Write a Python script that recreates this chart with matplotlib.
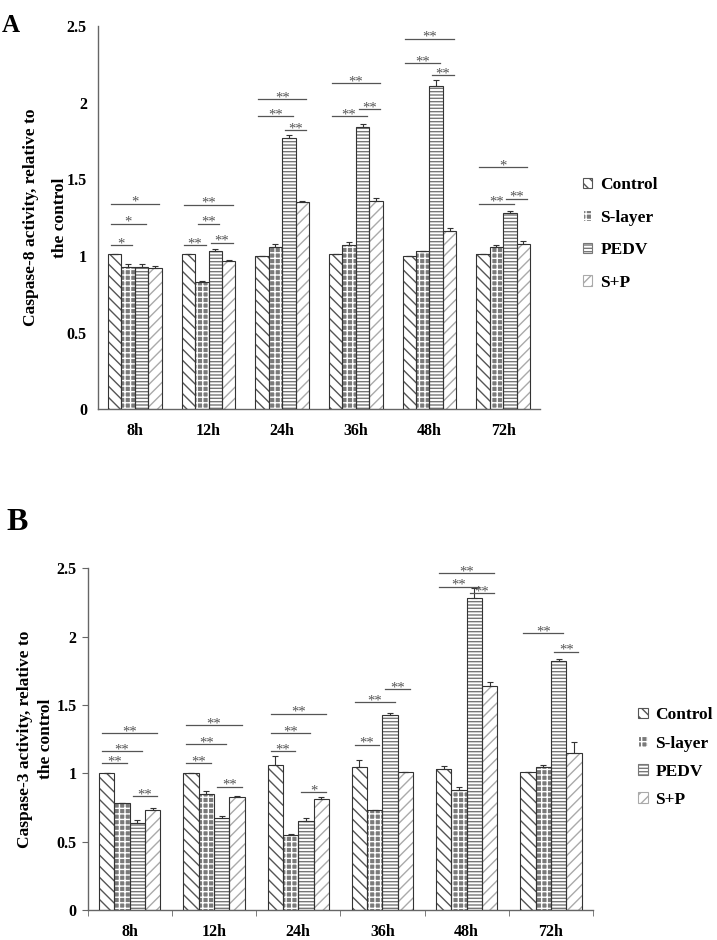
import numpy as np
import matplotlib
matplotlib.use("Agg")
import matplotlib.pyplot as plt
from matplotlib.patches import Patch

plt.rcParams['font.family'] = 'serif'
plt.rcParams['font.serif'] = ['Liberation Serif', 'DejaVu Serif']
plt.rcParams['font.weight'] = 'bold'
plt.rcParams['hatch.linewidth'] = 1.0

# data
hours = ['8h', '12h', '24h', '36h', '48h', '72h']
groups = ['Control', 'S-layer', 'PEDV', 'S+P']

# panel A - caspase-8
control_a = [1.01, 1.01, 1.00, 1.01, 1.00, 1.01]
slayer_a = [0.93, 0.83, 1.06, 1.07, 1.03, 1.06]
pedv_a = [0.93, 1.03, 1.77, 1.84, 2.11, 1.28]
sp_a = [0.92, 0.97, 1.35, 1.36, 1.16, 1.08]
control_a_err = [0.005, 0.005, 0.0, 0.0, 0.0, 0.005]
slayer_a_err = [0.015, 0.005, 0.015, 0.022, 0.005, 0.012]
pedv_a_err = [0.015, 0.015, 0.017, 0.02, 0.035, 0.013]
sp_a_err = [0.015, 0.003, 0.008, 0.017, 0.024, 0.02]

# panel B - caspase-3
control_b = [1.00, 1.00, 1.06, 1.05, 1.03, 1.01]
slayer_b = [0.78, 0.85, 0.55, 0.73, 0.88, 1.05]
pedv_b = [0.64, 0.67, 0.65, 1.43, 2.28, 1.82]
sp_b = [0.73, 0.83, 0.81, 1.01, 1.64, 1.15]
control_b_err = [0.003, 0.003, 0.07, 0.05, 0.022, 0.003]
slayer_b_err = [0.0, 0.022, 0.005, 0.003, 0.02, 0.012]
pedv_b_err = [0.019, 0.015, 0.022, 0.012, 0.073, 0.015]
sp_b_err = [0.017, 0.003, 0.017, 0.003, 0.027, 0.076]

# significance brackets: (time index, bar i, bar j, height, label)
sig_a = [(0, 0, 1, 1.07, '*'), (0, 0, 2, 1.21, '*'), (0, 0, 3, 1.34, '*'),
         (1, 0, 1, 1.07, '**'), (1, 1, 2, 1.21, '**'), (1, 2, 3, 1.087, '**'), (1, 0, 3, 1.335, '**'),
         (2, 0, 3, 2.022, '**'), (2, 0, 2, 1.913, '**'), (2, 2, 3, 1.822, '**'),
         (3, 0, 3, 2.128, '**'), (3, 0, 2, 1.913, '**'), (3, 2, 3, 1.957, '**'),
         (4, 0, 3, 2.418, '**'), (4, 0, 2, 2.257, '**'), (4, 2, 3, 2.179, '**'),
         (5, 0, 3, 1.58, '*'), (5, 0, 2, 1.341, '**'), (5, 2, 3, 1.374, '**')]
sig_b = [(0, 0, 1, 1.073, '**'), (0, 0, 2, 1.161, '**'), (0, 0, 3, 1.293, '**'), (0, 2, 3, 0.832, '**'),
         (1, 0, 1, 1.073, '**'), (1, 0, 2, 1.212, '**'), (1, 0, 3, 1.353, '**'), (1, 2, 3, 0.902, '**'),
         (2, 0, 1, 1.161, '**'), (2, 0, 2, 1.293, '**'), (2, 0, 3, 1.436, '**'), (2, 2, 3, 0.861, '*'),
         (3, 0, 1, 1.209, '**'), (3, 0, 2, 1.519, '**'), (3, 2, 3, 1.614, '**'),
         (4, 0, 3, 2.463, '**'), (4, 0, 2, 2.365, '**'), (4, 2, 3, 2.319, '**'),
         (5, 0, 2, 2.024, '**'), (5, 2, 3, 1.89, '**')]

hatches = ['\\\\\\', '+++', '-----', '///']
hatch_cols = ['#555555', 'white', '#777777', '#aaaaaa']
face_cols = ['white', '#7a7a7a', 'white', 'white']
edge = '#333333'
axis_col = '#666666'


def draw_panel(ax, series, errs, sigs, ylabel, xticks_marks, lsp):
    x = np.arange(len(hours))
    w = 0.182
    offs = (np.arange(4) - 1.5) * w
    for k in range(4):
        ax.bar(x + offs[k], series[k], w, facecolor=face_cols[k], edgecolor=hatch_cols[k],
               hatch=hatches[k], linewidth=0, zorder=2)
        ax.bar(x + offs[k], series[k], w, fill=False, edgecolor=edge, linewidth=0.8, zorder=3)
        ax.errorbar(x + offs[k], series[k], yerr=[np.zeros(len(hours)), errs[k]], fmt='none',
                    ecolor=edge, elinewidth=0.8, capsize=2.5, capthick=0.8, zorder=4)
    for t, i, j, h, lab in sigs:
        x0 = t + offs[i] - 0.3 * w
        x1 = t + offs[j] + 0.3 * w
        ax.plot([x0, x1], [h, h], color='#555555', lw=0.9, zorder=5)
        ax.annotate(lab, ((x0 + x1) / 2, h), xytext=(0, -1.5), textcoords='offset points',
                    ha='center', va='baseline', fontsize=10.5, fontweight='normal', color='#555555')
    ax.set_xlim(-0.5, 5.5)
    ax.set_ylim(0, 2.5)
    ax.set_yticks([0, 0.5, 1, 1.5, 2, 2.5])
    ax.set_yticklabels(['0', '0.5', '1', '1.5', '2', '2.5'])
    ax.set_xticks(x)
    ax.set_xticklabels(hours)
    for s in ['top', 'right']:
        ax.spines[s].set_visible(False)
    for s in ['left', 'bottom']:
        ax.spines[s].set_color(axis_col)
        ax.spines[s].set_linewidth(1.0)
    ax.tick_params(axis='x', length=0, pad=10, labelsize=11.5)
    if xticks_marks:
        ax.set_xticks(np.arange(-0.5, 6, 1), minor=True)
        ax.tick_params(axis='x', which='minor', length=4, color=axis_col, direction='out')
        ax.tick_params(axis='y', length=4, color=axis_col, pad=4, labelsize=11.5)
    else:
        ax.tick_params(axis='y', length=0, pad=8, labelsize=11.5)
    ax.set_ylabel(ylabel, fontsize=12.5, fontweight='bold', linespacing=lsp)


fig = plt.figure(figsize=(7.17, 9.4), dpi=100)

ax_a = fig.add_axes([0.1367, 0.5646, 0.6164, 0.4077])
draw_panel(ax_a, [control_a, slayer_a, pedv_a, sp_a],
           [control_a_err, slayer_a_err, pedv_a_err, sp_a_err], sig_a,
           'Caspase-8 activity, relative to\nthe control', False, 2.1)
ax_a.yaxis.set_label_coords(-0.068, 0.5)

ax_b = fig.add_axes([0.1223, 0.0319, 0.7047, 0.3635])
draw_panel(ax_b, [control_b, slayer_b, pedv_b, sp_b],
           [control_b_err, slayer_b_err, pedv_b_err, sp_b_err], sig_b,
           'Caspase-3 activity, relative to\nthe control', True, 1.45)
ax_b.yaxis.set_label_coords(-0.066, 0.5)

handles = [Patch(facecolor=face_cols[k], edgecolor=hatch_cols[k], hatch=hatches[k]) for k in range(4)]


def add_legend(anchor, spacing):
    leg = fig.legend(handles, groups, loc='center left', bbox_to_anchor=anchor, frameon=False,
                     prop={'size': 12.5, 'weight': 'bold'}, handlelength=0.55, handleheight=0.55,
                     handletextpad=0.45, labelspacing=spacing, borderpad=0, borderaxespad=0)
    for p in leg.get_patches():
        p.set_linewidth(0.8)
    return leg


add_legend((0.813, 0.751), 0.95)
add_legend((0.89, 0.194), 0.7)

fig.text(0.003, 0.985, 'A', fontsize=18, fontweight='bold', va='top', ha='left')
fig.text(0.009, 0.46, 'B', fontsize=23, fontweight='bold', va='top', ha='left')

fig.savefig('out.png', dpi=100)
